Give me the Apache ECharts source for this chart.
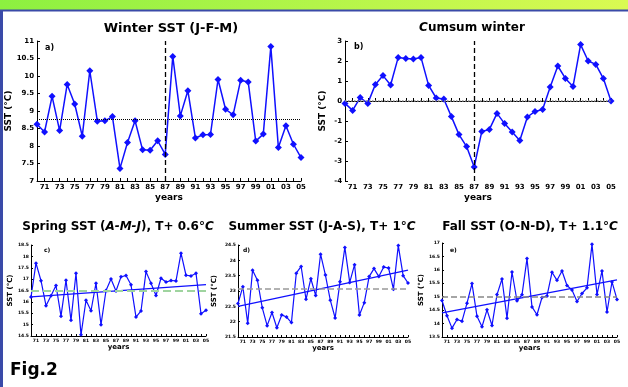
<!DOCTYPE html>
<html>
<head>
<meta charset="utf-8">
<style>
html, body { margin: 0; padding: 0; background: #fff; }
#chart { width: 628px; height: 387px; }
</style>
<script src="https://cdn.jsdelivr.net/npm/echarts@6/dist/echarts.min.js"></script>
</head>
<body>
<div id="chart"></div>
<script>
// years 1970..2005, shown as two digits
var years = ['70','71','72','73','74','75','76','77','78','79',
             '80','81','82','83','84','85','86','87','88','89',
             '90','91','92','93','94','95','96','97','98','99',
             '00','01','02','03','04','05'];

var winterSst = [8.62, 8.4, 9.42, 8.44, 9.76, 9.2, 8.28, 10.15, 8.71, 8.72,
                 8.84, 7.36, 8.1, 8.72, 7.89, 7.88, 8.15, 7.76, 10.56, 8.86,
                 9.58, 8.23, 8.32, 8.33, 9.9, 9.05, 8.89, 9.88, 9.83, 8.14,
                 8.34, 10.84, 7.96, 8.58, 8.05, 7.67];
var cumsumWinter = [-0.12, -0.47, 0.17, -0.12, 0.83, 1.27, 0.8, 2.18, 2.13, 2.1,
                    2.18, 0.78, 0.15, 0.1, -0.78, -1.68, -2.28, -3.3, -1.52, -1.42,
                    -0.62, -1.13, -1.55, -1.97, -0.8, -0.52, -0.42, 0.7, 1.75, 1.13,
                    0.72, 2.82, 2.0, 1.83, 1.12, 0.0];
var springSst = [16.21, 17.7, 16.93, 15.83, 16.27, 16.72, 15.37, 16.95, 15.19, 17.26,
                 14.55, 16.07, 15.61, 16.82, 15.0, 16.5, 17.01, 16.48, 17.1, 17.16,
                 16.75, 15.33, 15.6, 17.33, 16.82, 16.28, 17.04, 16.87, 16.94, 16.92,
                 18.14, 17.17, 17.14, 17.26, 15.48, 15.63];
var summerSst = [22.59, 23.14, 21.95, 23.68, 23.35, 22.45, 21.87, 22.3, 21.8, 22.22,
                 22.15, 21.97, 23.58, 23.8, 22.73, 23.4, 22.85, 24.2, 23.52, 22.7,
                 22.12, 23.3, 24.42, 23.28, 23.86, 22.22, 22.62, 23.47, 23.73, 23.47,
                 23.78, 23.75, 23.06, 24.48, 23.5, 23.26];
var fallSst = [14.86, 14.29, 13.83, 14.15, 14.09, 14.76, 15.49, 14.27, 13.88, 14.51,
               13.93, 15.08, 15.66, 14.2, 15.92, 14.85, 15.07, 16.42, 14.62, 14.33,
               14.97, 15.03, 15.91, 15.61, 15.96, 15.42, 15.25, 14.82, 15.12, 15.33,
               16.95, 15.08, 15.96, 14.43, 15.55, 14.9];

// trend line ends (1970, 2005) and reference levels
var springTrend = [16.22, 16.76];
var summerTrend = [22.5, 23.68];
var fallTrend = [14.4, 15.63];
var means = [8.76, 0, 16.5, 23.08, 15.0];
var shiftYear = '87';

var yRanges = [[7, 11, 0.5], [-4, 3, 1], [14.5, 18.5, 0.5], [21.5, 24.5, 0.5], [13.5, 17, 0.5]];

var chart = echarts.init(document.getElementById('chart'));

var grids = [
    { left: 37, top: 41, width: 264, height: 140 },
    { left: 345, top: 41, width: 266, height: 140 },
    { left: 31, top: 245, width: 175, height: 91 },
    { left: 238, top: 245, width: 170, height: 92 },
    { left: 442, top: 243, width: 175, height: 94 }
];

var blue = '#1010ff';
var font = 'DejaVu Sans';

var xAxes = [], yAxes = [], series = [];
for (var i = 0; i < 5; i++) {
    var big = i < 2;
    xAxes.push({
        gridIndex: i,
        type: 'category',
        data: years,
        boundaryGap: false,
        name: 'years',
        nameLocation: 'middle',
        nameGap: big ? 12 : 8,
        nameTextStyle: { fontFamily: font, fontWeight: 'bold', fontSize: big ? 9 : 7, color: '#000' },
        axisLine: { lineStyle: { color: '#000', width: 1 } },
        axisTick: { inside: true, length: big ? 3 : 2, interval: 0, lineStyle: { color: '#000' } },
        axisLabel: {
            interval: function (idx) { return idx % 2 === 1; },
            fontFamily: font, fontWeight: 'bold', fontSize: big ? 7 : 4.5,
            color: '#000', margin: big ? 3 : 2
        },
        splitLine: { show: false }
    });
    yAxes.push({
        gridIndex: i,
        type: 'value',
        min: yRanges[i][0],
        max: yRanges[i][1],
        interval: yRanges[i][2],
        name: 'SST (°C)',
        nameLocation: 'middle',
        nameRotate: 90,
        nameGap: big ? 18 : (i === 3 ? 20 : 16),
        nameTextStyle: { fontFamily: font, fontWeight: 'bold', fontSize: big ? 9 : 7, color: '#000' },
        axisLine: { show: true, lineStyle: { color: '#000', width: 1 } },
        axisTick: { show: true, inside: true, length: big ? 3 : 2, lineStyle: { color: '#000' } },
        axisLabel: { fontFamily: font, fontWeight: 'bold', fontSize: big ? 7 : 4.5, color: '#000', margin: big ? 3 : 2 },
        splitLine: { show: false }
    });
}

var dataSets = [winterSst, cumsumWinter, springSst, summerSst, fallSst];
var meanStyles = [
    { color: '#000', type: 'dotted', width: 1 },
    { color: '#888', type: 'dotted', width: 1.5 },
    { color: '#9fd49f', type: 'dashed', width: 2 },
    { color: '#999', type: 'dashed', width: 1.5 },
    { color: '#888', type: 'dashed', width: 1.5 }
];

for (var k = 0; k < 5; k++) {
    var markData = [{ yAxis: means[k], lineStyle: meanStyles[k] }];
    if (k < 2) {
        markData.push({ xAxis: shiftYear, lineStyle: { color: '#000', type: [5, 3], width: 1.3 } });
    }
    series.push({
        type: 'line',
        xAxisIndex: k,
        yAxisIndex: k,
        data: dataSets[k],
        symbol: 'diamond',
        symbolSize: k < 2 ? 7 : 4,
        showAllSymbol: true,
        lineStyle: { color: blue, width: k < 2 ? 1.5 : 1.2 },
        itemStyle: { color: blue },
        animation: false,
        z: 3,
        markLine: {
            silent: true,
            symbol: 'none',
            label: { show: false },
            animation: false,
            data: markData
        }
    });
}

var trends = [springTrend, summerTrend, fallTrend];
for (var t = 0; t < 3; t++) {
    series.push({
        type: 'line',
        xAxisIndex: t + 2,
        yAxisIndex: t + 2,
        data: [[years[0], trends[t][0]], [years[years.length - 1], trends[t][1]]],
        symbol: 'none',
        lineStyle: { color: blue, width: 1.3 },
        animation: false,
        z: 2
    });
}

function label(text, x, y, size, align) {
    return {
        text: text,
        left: x,
        top: y,
        padding: 0,
        textAlign: align || 'left',
        textStyle: { fontFamily: font, fontWeight: 'bold', fontSize: size, color: '#000' }
    };
}

function richTitle(text, x, y) {
    return {
        text: text,
        left: x,
        top: y,
        padding: 0,
        textAlign: 'center',
        textStyle: {
            fontFamily: font, fontWeight: 'bold', fontSize: 12, color: '#000',
            rich: {
                i: { fontFamily: font, fontWeight: 'bold', fontStyle: 'italic', fontSize: 12, color: '#000' }
            }
        }
    };
}

var opinion = {
    backgroundColor: '#fff',
    title: [
        label('Winter SST (J-F-M)', 171, 22, 13, 'center'),
        richTitle('{i|C}umsum winter', 472, 22),
        richTitle('Spring SST ({i|A-M-J}), T+ 0.6°{i|C}', 118, 221),
        richTitle('Summer SST (J-A-S), T+ 1°{i|C}', 322, 221),
        richTitle('Fall SST (O-N-D), T+ 1.1°{i|C}', 530, 221),
        label('a)', 45, 44, 8),
        label('b)', 354, 43, 8),
        label('c)', 44, 247, 6),
        label('d)', 243, 247, 6),
        label('e)', 450, 247, 6),
        label('Fig.2', 10, 362, 17)
    ],
    grid: grids,
    xAxis: xAxes,
    yAxis: yAxes,
    series: series,
    graphic: [
        {
            type: 'rect',
            shape: { x: 0, y: 0, width: 628, height: 10 },
            style: {
                fill: new echarts.graphic.LinearGradient(0, 0, 1, 0, [
                    { offset: 0, color: '#8cf040' },
                    { offset: 1, color: '#dafa52' }
                ])
            },
            silent: true
        },
        {
            type: 'line',
            shape: { x1: 0, y1: 10.5, x2: 628, y2: 10.5 },
            style: { stroke: '#3a4aa8', lineWidth: 2 },
            silent: true
        },
        {
            type: 'line',
            shape: { x1: 1.5, y1: 10, x2: 1.5, y2: 387 },
            style: { stroke: '#3a4aa8', lineWidth: 3 },
            silent: true
        }
    ]
};

chart.setOption(opinion);
</script>
</body>
</html>
